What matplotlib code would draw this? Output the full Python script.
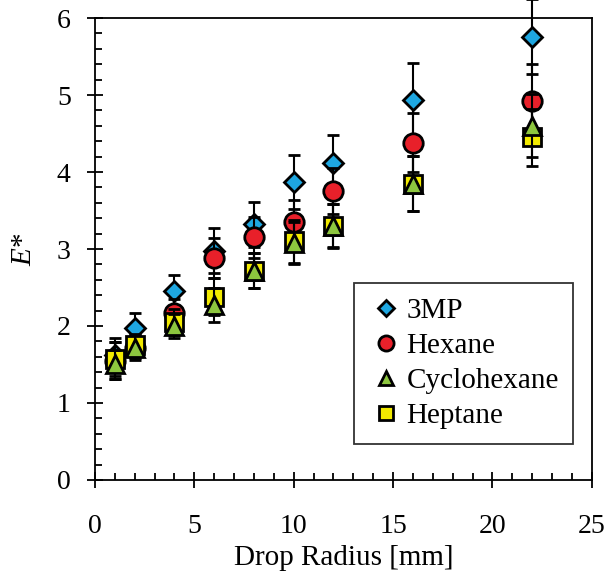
import numpy as np
import matplotlib.pyplot as plt
from matplotlib.ticker import MultipleLocator

# drop radius [mm]
radius = [1, 2, 4, 6, 8, 10, 12, 16, 22]

e_3mp = [1.62, 1.97, 2.45, 2.98, 3.32, 3.87, 4.12, 4.93, 5.76]
err_3mp = [0.22, 0.20, 0.21, 0.29, 0.29, 0.35, 0.36, 0.49, 0.49]

e_hex = [1.55, 1.72, 2.17, 2.88, 3.15, 3.35, 3.75, 4.38, 4.92]
err_hex = [0.24, 0.14, 0.18, 0.26, 0.27, 0.29, 0.30, 0.38, 0.48]

e_cyc = [1.50, 1.72, 2.00, 2.27, 2.72, 3.08, 3.30, 3.85, 4.60]
err_cyc = [0.19, 0.16, 0.16, 0.22, 0.23, 0.27, 0.28, 0.36, 0.41]

e_hep = [1.57, 1.75, 2.05, 2.38, 2.72, 3.10, 3.30, 3.85, 4.45]
err_hep = [0.22, 0.15, 0.17, 0.24, 0.23, 0.28, 0.29, 0.36, 0.37]

plt.rcParams['font.family'] = ['Liberation Serif', 'DejaVu Serif']
plt.rcParams['mathtext.fontset'] = 'custom'
plt.rcParams['mathtext.it'] = 'Liberation Serif:italic'
plt.rcParams['mathtext.rm'] = 'Liberation Serif'

fig = plt.figure(figsize=(6.07, 5.74), dpi=100)
ax = fig.add_axes([0.1565, 0.1638, 0.8185, 0.8048])

common = dict(ecolor='black', elinewidth=1.5, capsize=4.5, capthick=1.5,
              linestyle='none', markeredgecolor='black', markeredgewidth=2,
              clip_on=False)
ax.errorbar(radius, e_3mp, yerr=err_3mp, fmt='D', ms=10.5, mfc='#1ea7e1',
            label='3MP', zorder=2, **common)
ax.errorbar(radius, e_hex, yerr=err_hex, fmt='o', ms=14, mfc='#e8202a',
            label='Hexane', zorder=3, **common)
ax.errorbar(radius, e_hep, yerr=err_hep, fmt='s', ms=13, mfc='#f2ea00',
            label='Heptane', zorder=4, **common)
ax.errorbar(radius, e_cyc, yerr=err_cyc, fmt='^', ms=13, mfc='#8dc63f',
            label='Cyclohexane', zorder=5, **common)

ax.set_xlim(0, 25)
ax.set_ylim(0, 6)
ax.xaxis.set_major_locator(MultipleLocator(5))
ax.xaxis.set_minor_locator(MultipleLocator(1))
ax.yaxis.set_major_locator(MultipleLocator(1))
ax.yaxis.set_minor_locator(MultipleLocator(0.2))
ax.tick_params(which='major', direction='inout', length=11, width=1.3, labelsize=20)
ax.tick_params(which='minor', direction='in', length=5, width=1.3)
ax.tick_params(axis='x', which='major', pad=19)
ax.tick_params(axis='y', which='major', pad=12)
for s in ax.spines.values():
    s.set_linewidth(1.3)

ax.set_xlabel('Drop Radius [mm]', fontsize=21, labelpad=4)
ax.set_ylabel('$E$*', fontsize=21, labelpad=14)

h, l = ax.get_legend_handles_labels()
order = [0, 1, 3, 2]
leg = ax.legend([h[i][0] for i in order], [l[i] for i in order],
                loc='lower right', bbox_to_anchor=(0.963, 0.078), fontsize=21,
                frameon=True, fancybox=False, edgecolor='black',
                handletextpad=0.1, handlelength=1.2, borderpad=0.5,
                borderaxespad=0, labelspacing=0.3, markerscale=0.78)
leg.get_frame().set_linewidth(1.3)

fig.savefig('out.png', dpi=100)
